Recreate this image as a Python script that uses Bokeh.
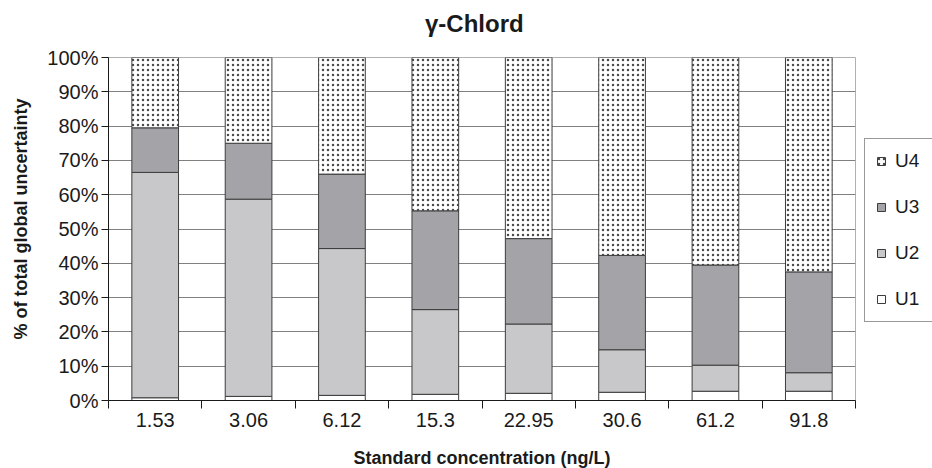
from bokeh.plotting import figure
from bokeh.models import (ColumnDataSource, Range1d, FixedTicker, NumeralTickFormatter,
                          Legend, LegendItem, Div)
from bokeh.layouts import column
from bokeh.embed import file_html
from bokeh.resources import INLINE

# ---- data (percent of total global uncertainty) ----
title_text = "γ-Chlord"
categories = ["1.53", "3.06", "6.12", "15.3", "22.95", "30.6", "61.2", "91.8"]
U1 = [0.8, 1.2, 1.5, 1.8, 2.1, 2.4, 2.7, 2.7]
U2 = [65.7, 57.5, 42.8, 24.7, 20.2, 12.4, 7.6, 5.4]
U3 = [13.0, 16.3, 21.7, 28.8, 24.9, 27.5, 29.2, 29.4]
U4 = [20.5, 25.0, 34.0, 44.7, 52.8, 57.7, 60.5, 62.5]
series_names = ["U1", "U2", "U3", "U4"]
y_ticks = [0, 0.1, 0.2, 0.3, 0.4, 0.5, 0.6, 0.7, 0.8, 0.9, 1.0]

FONT = "Liberation Sans"

xpos = [i + 0.5 for i in range(len(categories))]
source = ColumnDataSource(dict(
    x=xpos,
    U1=[v / 100 for v in U1],
    U2=[v / 100 for v in U2],
    U3=[v / 100 for v in U3],
    U4=[v / 100 for v in U4],
))

title_div = Div(text=title_text, width=932, height=42, margin=(0, 0, 0, 0),
                styles={"font-family": FONT, "font-size": "24px", "font-weight": "bold",
                        "color": "#1a1a1a", "line-height": "24px",
                        "padding-top": "12px", "padding-left": "425px",
                        "box-sizing": "border-box", "white-space": "nowrap"})

p = figure(width=932, height=426, output_backend="svg", toolbar_location=None,
           x_range=Range1d(0, len(categories)), y_range=Range1d(0, 1),
           frame_width=747, frame_height=343,
           min_border_left=108, min_border_right=77, min_border_top=15, min_border_bottom=68,
           margin=(0, 0, 0, 0))
p.background_fill_color = "white"
p.border_fill_color = "white"
p.outline_line_color = "#b0b0b0"

renderers = p.vbar_stack(series_names, x="x", width=0.5, source=source,
                         fill_color=["white", "#c8c8ca", "#a4a4a8", "white"],
                         line_color="#3c3c3c", line_width=1,
                         hatch_pattern=[None, None, None, "dot"],
                         hatch_color="#4a4a4a", hatch_scale=5, hatch_weight=1.8)

# grid
p.xgrid.visible = False
p.ygrid.ticker = FixedTicker(ticks=y_ticks)
p.ygrid.grid_line_color = "#808080"
p.ygrid.grid_line_width = 1.2
p.ygrid.level = "underlay"

# y axis
p.yaxis.ticker = FixedTicker(ticks=y_ticks)
p.yaxis.formatter = NumeralTickFormatter(format="0%")
p.yaxis.axis_label = "\u00a0\u00a0\u00a0\u00a0% of total global uncertainty"
p.yaxis.axis_label_text_font = FONT
p.yaxis.axis_label_text_font_style = "bold"
p.yaxis.axis_label_text_font_size = "18px"
p.yaxis.axis_label_text_color = "#1a1a1a"
p.yaxis.axis_label_standoff = 13
p.yaxis.major_label_text_font = FONT
p.yaxis.major_label_text_font_size = "20px"
p.yaxis.major_label_text_color = "#1a1a1a"
p.yaxis.major_label_standoff = 3
p.yaxis.major_tick_out = 7
p.yaxis.major_tick_in = 0
p.yaxis.minor_tick_out = 0
p.yaxis.axis_line_color = "#1a1a1a"
p.yaxis.major_tick_line_color = "#1a1a1a"

# x axis
p.xaxis.ticker = FixedTicker(ticks=xpos, minor_ticks=list(range(len(categories) + 1)))
p.xaxis.major_label_overrides = {x: c for x, c in zip(xpos, categories)}
p.xaxis.axis_label = "Standard concentration (ng/L)"
p.xaxis.axis_label_text_font = FONT
p.xaxis.axis_label_text_font_style = "bold"
p.xaxis.axis_label_text_font_size = "18px"
p.xaxis.axis_label_text_color = "#1a1a1a"
p.xaxis.axis_label_standoff = 18
p.xaxis.major_label_text_font = FONT
p.xaxis.major_label_text_font_size = "20px"
p.xaxis.major_label_text_color = "#1a1a1a"
p.xaxis.major_label_standoff = 4
p.xaxis.major_tick_out = 0
p.xaxis.major_tick_in = 0
p.xaxis.minor_tick_out = 8
p.xaxis.minor_tick_in = 0
p.xaxis.minor_tick_line_color = "#1a1a1a"
p.xaxis.axis_line_color = "#1a1a1a"

# legend (U4 on top), right of the plot, cut by the page edge as in the reference
items = [LegendItem(label=n, renderers=[r]) for n, r in zip(series_names, renderers)][::-1]
legend = Legend(items=items, location=(9, 78), orientation="vertical",
                glyph_width=10, glyph_height=10, label_height=20, label_width=40,
                spacing=24, padding=11, margin=0, label_standoff=9,
                label_text_font=FONT, label_text_font_size="19px", label_text_color="#1a1a1a",
                border_line_color="#333333", border_line_width=1.2,
                background_fill_color="white", background_fill_alpha=1)
p.add_layout(legend, "right")

layout = column(title_div, p, spacing=0, margin=(0, 0, 0, 0))
open("out.html", "w").write(file_html(layout, INLINE))
